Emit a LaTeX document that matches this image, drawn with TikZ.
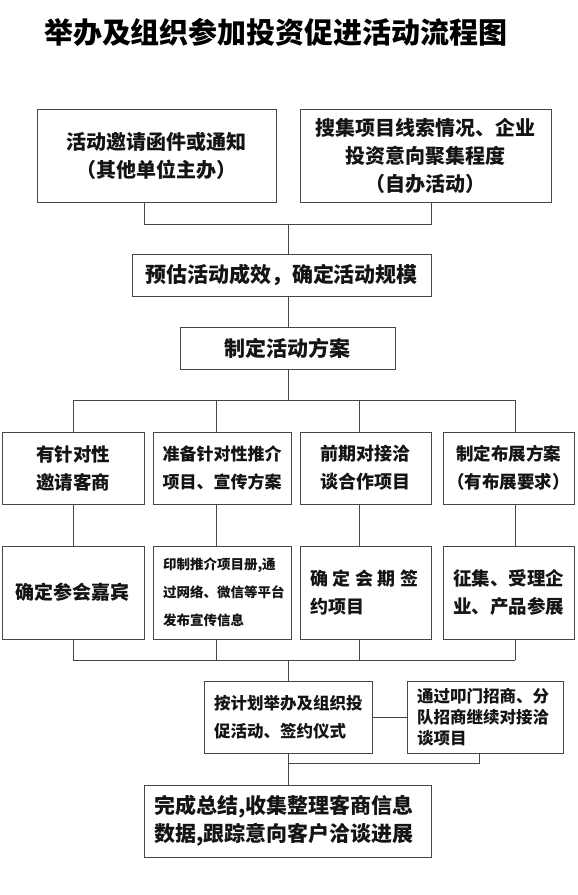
\documentclass[tikz,border=0pt]{standalone}
\usepackage{fontspec}
\setmainfont{Noto Sans CJK SC}
\usepackage{xcolor}
\usepackage{tikz}
\usetikzlibrary{calc}
\definecolor{cLine}{RGB}{70,70,70}
\definecolor{cText}{RGB}{20,20,20}
\tikzset{
  box/.style={draw=cLine,line width=0.8pt,inner sep=0pt,align=center,
              text=cText,font=\bfseries},
  lbox/.style={box,align=left,inner xsep=10pt},
  sz/.style={font=\fontsize{#1}{28}\selectfont\bfseries},
  link/.style={draw=cLine,line width=0.8pt},
}
\newcommand{\gapx}{\hspace{4.5pt}}

\begin{document}
\begin{tikzpicture}[x=1pt,y=-1pt]
  \useasboundingbox (0,0) rectangle (578,895);
  \node[font=\fontsize{29}{29}\selectfont\bfseries] (title) at (276,32)
    {举办及组织参加投资促进活动流程图};
  % top sources
  \node[box,sz=20,minimum width=239,minimum height=93] (A) at (156.5,155.5)
    {活动邀请函件或通知\\（其他单位主办）};
  \node[box,sz=20,minimum width=251,minimum height=93] (B) at (425.5,155.5)
    {搜集项目线索情况、企业\\投资意向聚集程度\\（自办活动）};
  \node[box,sz=21,minimum width=299,minimum height=42] (C) at (281.5,275)
    {预估活动成效，确定活动规模};
  \node[box,sz=21,minimum width=215,minimum height=42] (D) at (287.5,348)
    {制定活动方案};
  % first row
  \node[box,sz=18.5,minimum width=142,minimum height=72] (E1) at (73,468)
    {有针对性\\邀请客商};
  \node[box,sz=17,minimum width=138,minimum height=72] (E2) at (222,468)
    {准备针对性推介\\项目、宣传方案};
  \node[box,sz=18,minimum width=131,minimum height=72] (E3) at (365.5,468)
    {前期对接洽\\谈合作项目};
  \node[box,sz=17.5,minimum width=131,minimum height=72] (E4) at (508.5,468)
    {制定布展方案\\（有布展要求）};
  % second row
  \node[box,sz=19,minimum width=142,minimum height=93] (F1) at (73,592.5)
    {确定参会嘉宾};
  \node[lbox,sz=13.5,text width=118,minimum height=93] (F2) at (222,592.5)
    {印制推介项目册,通\\过网络、微信等平台\\发布宣传信息};
  \node[lbox,sz=18,text width=111,minimum height=93] (F3) at (365.5,592.5)
    {确\gapx 定\gapx 会\gapx 期\gapx 签\\约项目};
  \node[lbox,sz=18.5,text width=111,minimum height=93] (F4) at (508.5,592.5)
    {征集、受理企\\业、产品参展};
  % holding the event
  \node[lbox,sz=16.5,text width=148,minimum height=72] (G) at (288,717)
    {按计划举办及组织投\\促活动、签约仪式};
  \node[lbox,font=\fontsize{16.5}{21}\selectfont\bfseries,text width=136,minimum height=72] (H) at (485,717)
    {通过叩门招商、分\\队招商继续对接洽\\谈项目};
  \node[lbox,sz=21,text width=267,minimum height=72] (I) at (287.5,821)
    {完成总结,收集整理客商信息\\数据,跟踪意向客户洽谈进展};
  % junctions
  \coordinate (a1) at (144,224);
  \coordinate (b1) at (431,224);
  \coordinate (j1) at (288,224);
  \coordinate (j2) at (288,400);
  \coordinate (j3) at (288,660);
  \coordinate (n1) at (288,763);
  \coordinate (n2) at (479,763);
  \foreach \i/\x in {1/73,2/216,3/359,4/515}{
    \coordinate (k\i) at (\x,400);
    \coordinate (m\i) at (\x,660);
  }
  \draw[link] (A.south -| a1) -- (a1) -- (b1) -- (B.south -| b1);
  \draw[link] (j1) -- (C.north -| j1);
  \draw[link] (C.south -| j1) -- (D.north -| j1);
  \draw[link] (D.south -| j2) -- (j2);
  \draw[link] (k1) -- (k4);
  \foreach \i in {1,...,4}{
    \draw[link] (k\i) -- (E\i.north -| k\i);
    \draw[link] (E\i.south -| k\i) -- (F\i.north -| k\i);
    \draw[link] (F\i.south -| m\i) -- (m\i);
  }
  \draw[link] (m1) -- (m4);
  \draw[link] (j3) -- (G.north -| j3);
  \draw[link] (G.east) -- (H.west);
  \draw[link] (G.south -| n1) -- (I.north -| n1);
  \draw[link] (n1) -- (n2) -- (H.south -| n2);
\end{tikzpicture}
\end{document}
